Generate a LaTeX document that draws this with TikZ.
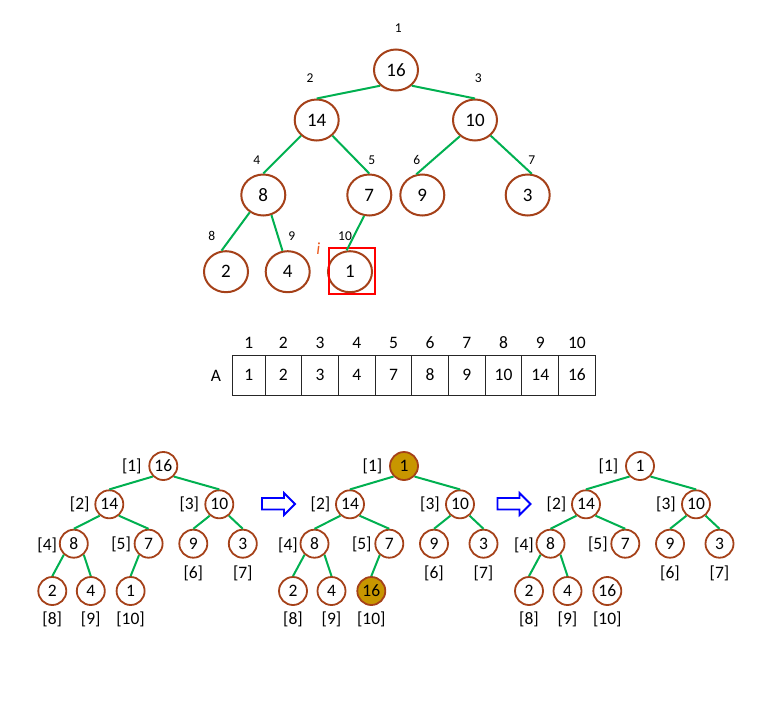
\documentclass[tikz,border=0pt]{standalone}
\usepackage{fontspec}
\setmainfont{Carlito}
\usetikzlibrary{positioning,shapes.geometric}

\definecolor{nodebrown}{RGB}{165,65,25}
\definecolor{heapgold}{RGB}{200,150,0}
\definecolor{heapgreen}{RGB}{0,176,80}
\definecolor{iorange}{RGB}{235,90,30}

\tikzstyle{bignode} = [ellipse, draw=nodebrown, line width=2pt, fill=white, minimum width=44pt, minimum height=41pt, inner sep=0pt, text height=12pt, text depth=0pt, font=\fontsize{19}{21}\selectfont]
\tikzstyle{hnode} = [circle, draw=nodebrown, line width=1.8pt, fill=white, minimum size=28pt, inner sep=0pt, text height=11pt, text depth=0pt, font=\fontsize{17.5}{19}\selectfont]
\tikzstyle{hot} = [fill=heapgold]
\tikzstyle{link} = [draw=heapgreen, line width=2pt]
\tikzstyle{idx} = [inner sep=0pt, text height=8.5pt, text depth=0pt, font=\fontsize{13.5}{15}\selectfont]
\tikzstyle{lbl} = [inner sep=0pt, text height=11pt, text depth=0pt, font=\fontsize{17.5}{19}\selectfont]
\tikzstyle{cell} = [rectangle, draw=black!85, line width=0.9pt, minimum width=36.7pt, minimum height=39.3pt, inner sep=0pt, outer sep=0pt, text height=11pt, text depth=0pt, font=\fontsize{17.5}{19}\selectfont]
\tikzstyle{redbox} = [rectangle, draw=red, line width=2pt, minimum size=46pt]
\tikzstyle{hollow} = [draw=blue, line width=1.8pt, fill=white, line join=miter]

\begin{document}
\begin{tikzpicture}[x=1pt, y=-1pt, node distance=50pt]
    \useasboundingbox (0,0) rectangle (765,701);

    % heap as a tree
    \node [bignode] (t1) at (396,70) {16};
    \node [bignode, left of=t1, node distance=79.3pt, yshift=-50pt] (t2) {14};
    \node [bignode, right of=t1, node distance=79pt, yshift=-50pt] (t3) {10};
    \node [bignode, left of=t2, node distance=53.4pt, yshift=-75pt] (t4) {8};
    \node [bignode, right of=t2, node distance=52.6pt, yshift=-75pt] (t5) {7};
    \node [bignode, left of=t3, node distance=52.7pt, yshift=-75pt] (t6) {9};
    \node [bignode, right of=t3, node distance=52.7pt, yshift=-75pt] (t7) {3};
    \node [bignode, left of=t4, node distance=37.3pt, yshift=-76.7pt] (t8) {2};
    \node [bignode, right of=t4, node distance=24.4pt, yshift=-76.7pt] (t9) {4};
    \node [bignode, left of=t5, node distance=19.3pt, yshift=-76.7pt] (t10) {1};

    % position numbers
    \node [idx] (k1) at (398.3,28.3) {1};
    \node [idx] (k2) at (310,78.3) {2};
    \node [idx] (k3) at (478.3,78.3) {3};
    \node [idx] (k4) at (256.7,160.7) {4};
    \node [idx] (k5) at (371.7,160.7) {5};
    \node [idx] (k6) at (416.7,160.7) {6};
    \node [idx] (k7) at (531.7,160.7) {7};
    \node [idx] (k8) at (211.7,236.7) {8};
    \node [idx] (k9) at (291.7,236.7) {9};
    \node [idx] (k10) at (345,236.7) {10};

    % last element
    \node [redbox] (box) at (352.3,270.7) {};
    \node [font=\fontsize{17}{19}\selectfont\itshape, text=iorange, inner sep=0pt] (ilbl) at (318.3,248.3) {i};

    % tree edges
    \path[link] (t1.225) -- (t2.north);
    \path[link] (t1.315) -- (t3.north);
    \path[link] (t2.225) -- (t4.north);
    \path[link] (t2.315) -- (t5.north);
    \path[link] (t3.227) -- (t6.106);
    \path[link] (t3.315) -- (t7.79);
    \path[link] (t4.232) -- (t8.102);
    \path[link] (t4.292) -- (t9.104);
    \path[link] (t5.256) -- (t10.99);

    % array A
    \coordinate (row) at (0,342.7);
    \node [lbl] (aname) at (216,376) {A};
    \node [cell, minimum width=32.5pt] (c1) at (248.75,375.35) {1};
    \node [cell, right=0pt of c1] (c2) {2};
    \node [cell, right=0pt of c2] (c3) {3};
    \node [cell, right=0pt of c3] (c4) {4};
    \node [cell, right=0pt of c4] (c5) {7};
    \node [cell, right=0pt of c5] (c6) {8};
    \node [cell, right=0pt of c6] (c7) {9};
    \node [cell, right=0pt of c7] (c8) {10};
    \node [cell, right=0pt of c8] (c9) {14};
    \node [cell, right=0pt of c9] (c10) {16};
    \node [lbl] at (c1 |- row) {1};
    \node [lbl] at (c2 |- row) {2};
    \node [lbl] at (c3 |- row) {3};
    \node [lbl] at (c4 |- row) {4};
    \node [lbl] at (c5 |- row) {5};
    \node [lbl] at (c6 |- row) {6};
    \node [lbl] at (c7 |- row) {7};
    \node [lbl] at (c8 |- row) {8};
    \node [lbl] at (c9 |- row) {9};
    \node [lbl] at (c10 |- row) {10};

    % first heap
    \node [hnode] (a1) at (163.3,466) {16};
    \node [hnode, left of=a1, node distance=54pt, yshift=-38.3pt] (a2) {14};
    \node [hnode, right of=a1, node distance=56pt, yshift=-38.3pt] (a3) {10};
    \node [hnode, left of=a2, node distance=35.5pt, yshift=-39.4pt] (a4) {8};
    \node [hnode, right of=a2, node distance=39.3pt, yshift=-39.4pt] (a5) {7};
    \node [hnode, left of=a3, node distance=26pt, yshift=-39.4pt] (a6) {9};
    \node [hnode, right of=a3, node distance=23.5pt, yshift=-39.4pt] (a7) {3};
    \node [hnode, left of=a4, node distance=21.5pt, yshift=-47.3pt] (a8) {2};
    \node [hnode, right of=a4, node distance=17pt, yshift=-47.3pt] (a9) {4};
    \node [hnode, left of=a5, node distance=18pt, yshift=-47.3pt] (a10) {1};
    \node [lbl, left of=a1, node distance=31.5pt] {[1]};
    \node [lbl, left of=a2, node distance=29.5pt] {[2]};
    \node [lbl, left of=a3, node distance=30pt] {[3]};
    \node [lbl, left of=a4, node distance=26.5pt, yshift=-1.5pt] {[4]};
    \node [lbl, left of=a5, node distance=27.5pt] {[5]};
    \node [lbl, below of=a6, node distance=29.3pt] {[6]};
    \node [lbl, below of=a7, node distance=29.3pt] {[7]};
    \node [lbl, below of=a8, node distance=27.5pt] {[8]};
    \node [lbl, below of=a9, node distance=27.5pt] {[9]};
    \node [lbl, below of=a10, node distance=27.5pt] {[10]};
    \path[link] (a1.225) -- (a2.north);
    \path[link] (a1.315) -- (a3.north);
    \path[link] (a2.230) -- (a4.north);
    \path[link] (a2.310) -- (a5.north);
    \path[link] (a3.230) -- (a6.north);
    \path[link] (a3.310) -- (a7.north);
    \path[link] (a4.228) -- (a8.north);
    \path[link] (a4.312) -- (a9.north);
    \path[link] (a5.230) -- (a10.north);

    % swap arrows
    \draw[hollow] (262,498) -- (284,498) -- (284,493) -- (295,504) -- (284,515) -- (284,509.5) -- (262,509.5) -- cycle;
    \draw[hollow, xshift=235.5pt] (262,498) -- (284,498) -- (284,493) -- (295,504) -- (284,515) -- (284,509.5) -- (262,509.5) -- cycle;

    % second heap, root and last swapped
    \node [hnode, hot] (b1) at (404,466) {1};
    \node [hnode, left of=b1, node distance=54pt, yshift=-38.3pt] (b2) {14};
    \node [hnode, right of=b1, node distance=56pt, yshift=-38.3pt] (b3) {10};
    \node [hnode, left of=b2, node distance=35.5pt, yshift=-39.4pt] (b4) {8};
    \node [hnode, right of=b2, node distance=39.3pt, yshift=-39.4pt] (b5) {7};
    \node [hnode, left of=b3, node distance=26pt, yshift=-39.4pt] (b6) {9};
    \node [hnode, right of=b3, node distance=23.5pt, yshift=-39.4pt] (b7) {3};
    \node [hnode, left of=b4, node distance=21.5pt, yshift=-47.3pt] (b8) {2};
    \node [hnode, right of=b4, node distance=17pt, yshift=-47.3pt] (b9) {4};
    \node [hnode, hot, left of=b5, node distance=18pt, yshift=-47.3pt] (b10) {16};
    \node [lbl, left of=b1, node distance=31.5pt] {[1]};
    \node [lbl, left of=b2, node distance=29.5pt] {[2]};
    \node [lbl, left of=b3, node distance=30pt] {[3]};
    \node [lbl, left of=b4, node distance=26.5pt, yshift=-1.5pt] {[4]};
    \node [lbl, left of=b5, node distance=27.5pt] {[5]};
    \node [lbl, below of=b6, node distance=29.3pt] {[6]};
    \node [lbl, below of=b7, node distance=29.3pt] {[7]};
    \node [lbl, below of=b8, node distance=27.5pt] {[8]};
    \node [lbl, below of=b9, node distance=27.5pt] {[9]};
    \node [lbl, below of=b10, node distance=27.5pt] {[10]};
    \path[link] (b1.225) -- (b2.north);
    \path[link] (b1.315) -- (b3.north);
    \path[link] (b2.230) -- (b4.north);
    \path[link] (b2.310) -- (b5.north);
    \path[link] (b3.230) -- (b6.north);
    \path[link] (b3.310) -- (b7.north);
    \path[link] (b4.228) -- (b8.north);
    \path[link] (b4.312) -- (b9.north);
    \path[link] (b5.230) -- (b10.north);

    % third heap, last element cut off
    \node [hnode] (e1) at (640,466) {1};
    \node [hnode, left of=e1, node distance=54pt, yshift=-38.3pt] (e2) {14};
    \node [hnode, right of=e1, node distance=56pt, yshift=-38.3pt] (e3) {10};
    \node [hnode, left of=e2, node distance=35.5pt, yshift=-39.4pt] (e4) {8};
    \node [hnode, right of=e2, node distance=39.3pt, yshift=-39.4pt] (e5) {7};
    \node [hnode, left of=e3, node distance=26pt, yshift=-39.4pt] (e6) {9};
    \node [hnode, right of=e3, node distance=23.5pt, yshift=-39.4pt] (e7) {3};
    \node [hnode, left of=e4, node distance=21.5pt, yshift=-47.3pt] (e8) {2};
    \node [hnode, right of=e4, node distance=17pt, yshift=-47.3pt] (e9) {4};
    \node [hnode, left of=e5, node distance=18pt, yshift=-47.3pt] (e10) {16};
    \node [lbl, left of=e1, node distance=31.5pt] {[1]};
    \node [lbl, left of=e2, node distance=29.5pt] {[2]};
    \node [lbl, left of=e3, node distance=30pt] {[3]};
    \node [lbl, left of=e4, node distance=26.5pt, yshift=-1.5pt] {[4]};
    \node [lbl, left of=e5, node distance=27.5pt] {[5]};
    \node [lbl, below of=e6, node distance=29.3pt] {[6]};
    \node [lbl, below of=e7, node distance=29.3pt] {[7]};
    \node [lbl, below of=e8, node distance=27.5pt] {[8]};
    \node [lbl, below of=e9, node distance=27.5pt] {[9]};
    \node [lbl, below of=e10, node distance=27.5pt] {[10]};
    \path[link] (e1.225) -- (e2.north);
    \path[link] (e1.315) -- (e3.north);
    \path[link] (e2.230) -- (e4.north);
    \path[link] (e2.310) -- (e5.north);
    \path[link] (e3.230) -- (e6.north);
    \path[link] (e3.310) -- (e7.north);
    \path[link] (e4.228) -- (e8.north);
    \path[link] (e4.312) -- (e9.north);

\end{tikzpicture}
\end{document}
